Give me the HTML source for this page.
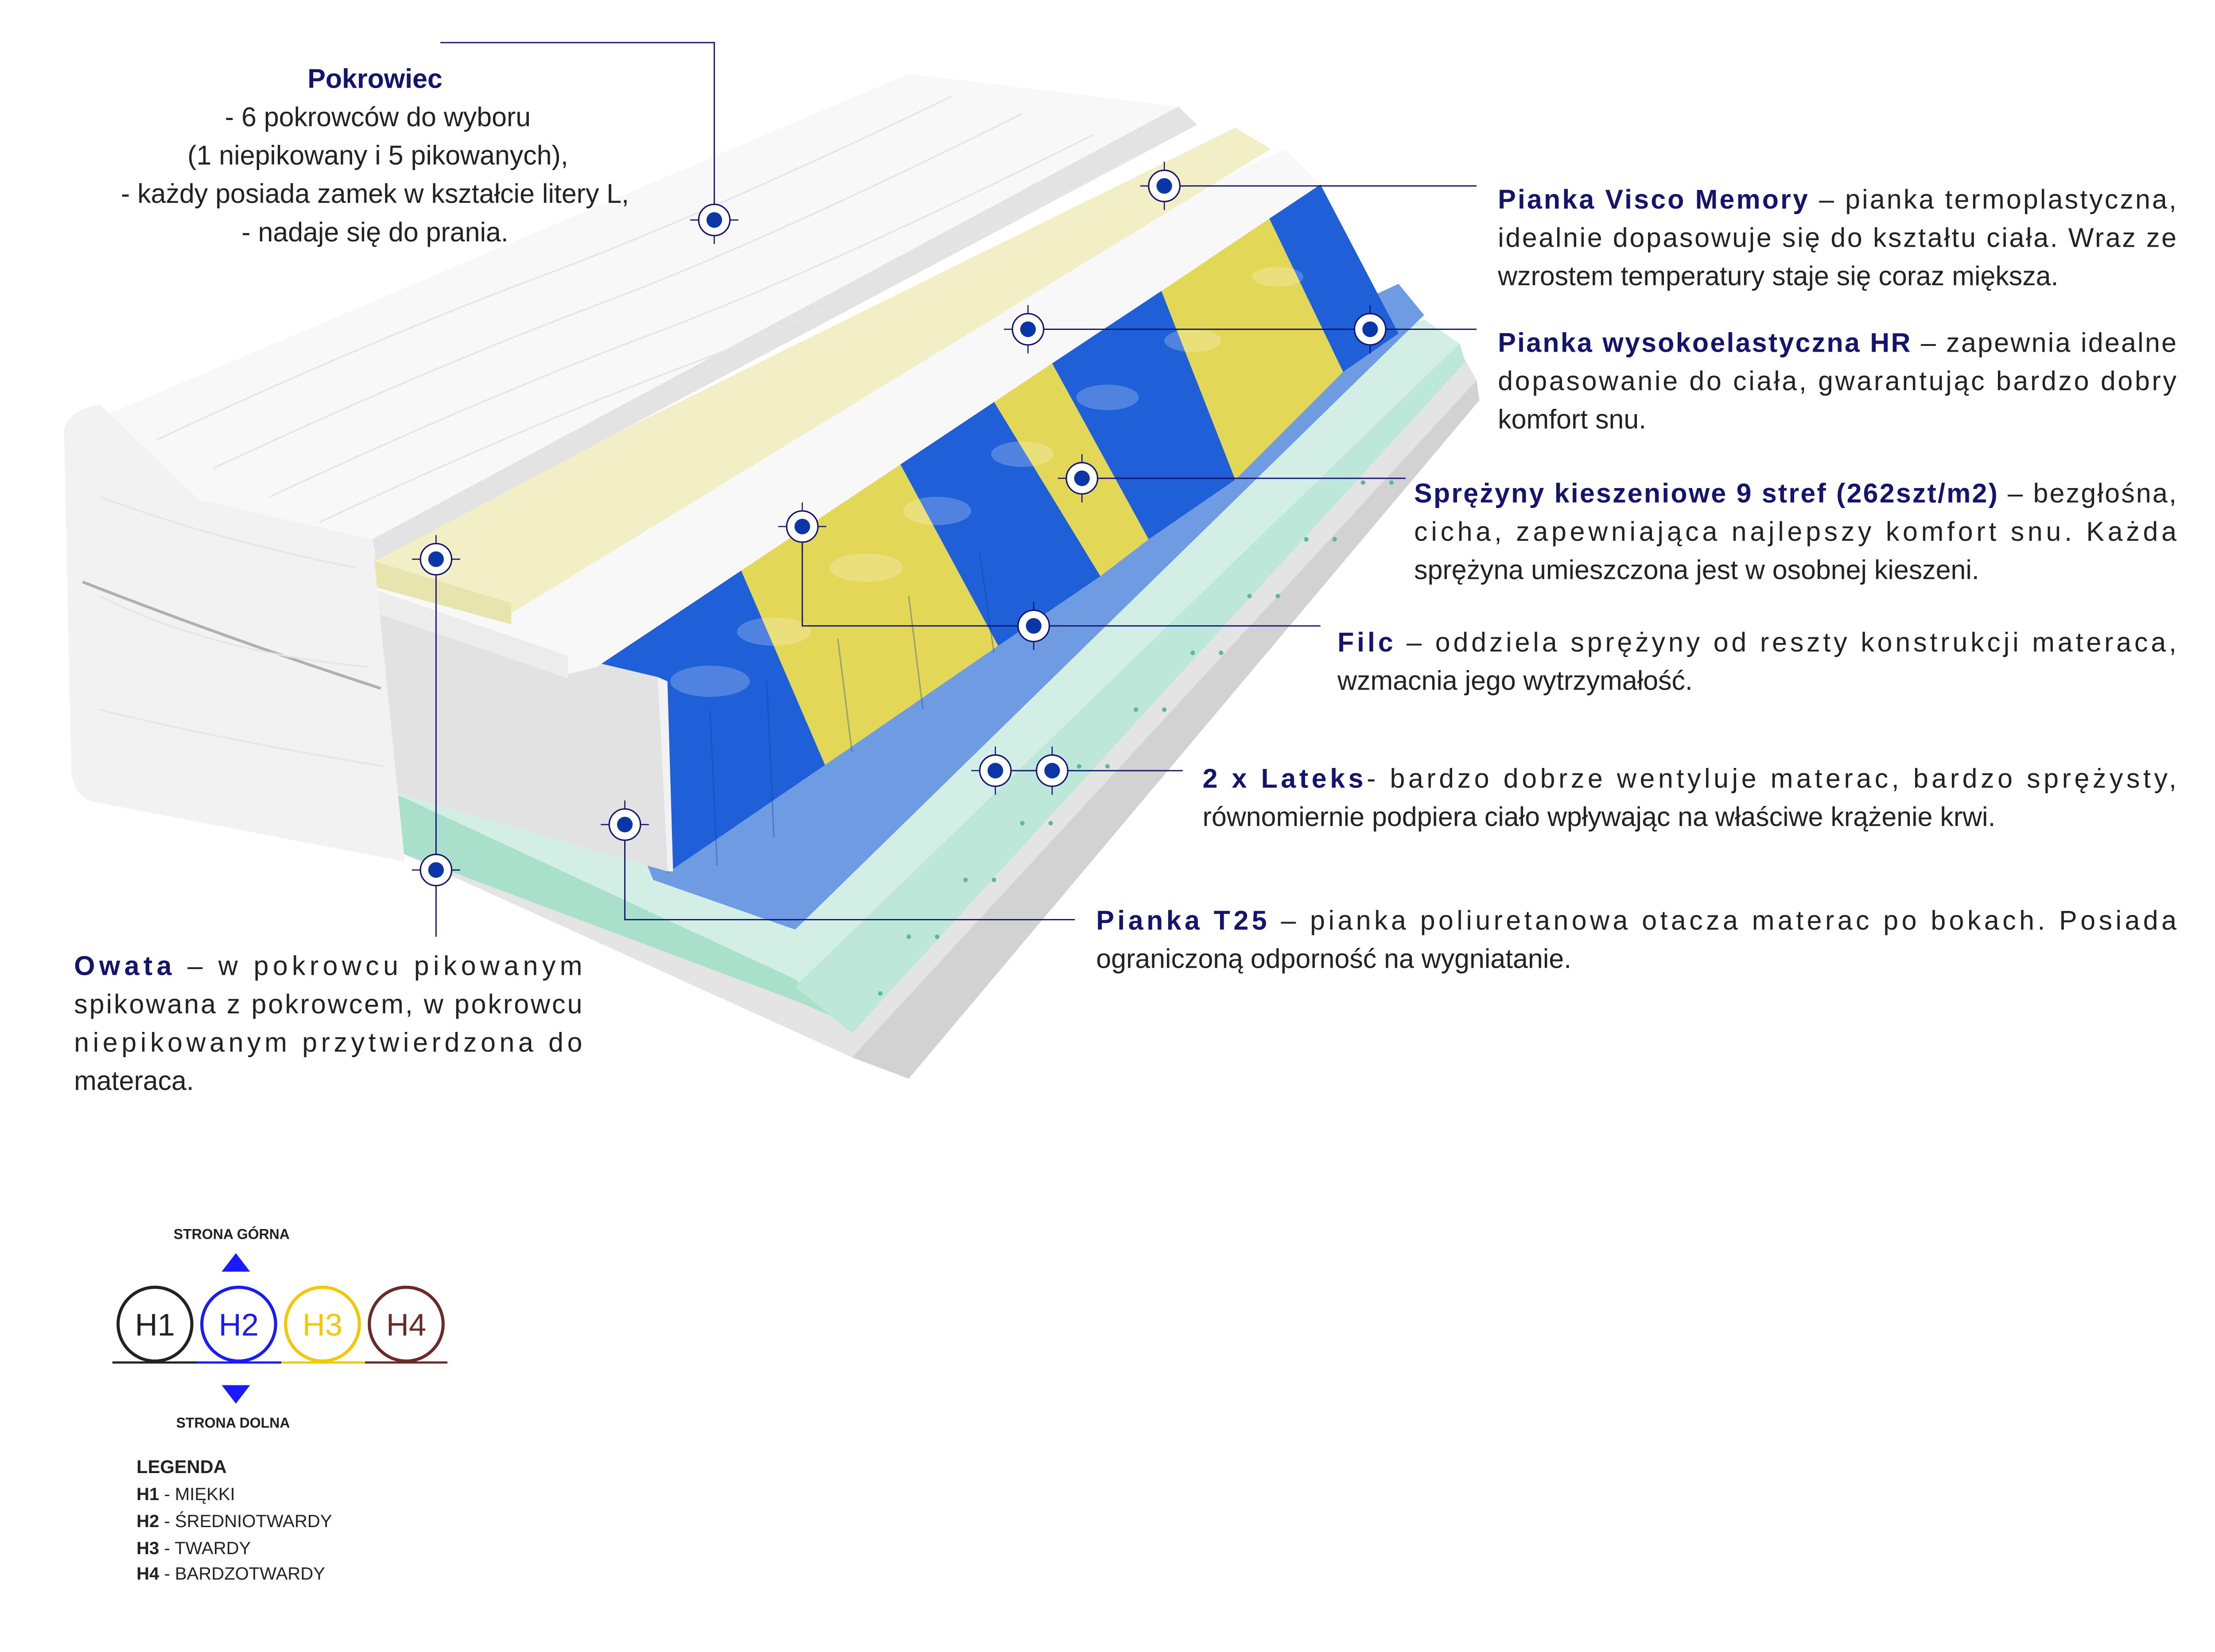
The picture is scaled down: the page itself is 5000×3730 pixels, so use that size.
<!DOCTYPE html>
<html><head><meta charset="utf-8"><style>
html,body{margin:0;padding:0;background:#fff;width:5000px;height:3730px;overflow:hidden}
svg{display:block}
text{font-family:"Liberation Sans","DejaVu Sans",sans-serif}
.b{font-size:19px;fill:#222}
.t{font-weight:bold;fill:#14146e}
</style></head><body>
<svg width="5000" height="3730" viewBox="0 0 1560 1164" xmlns="http://www.w3.org/2000/svg">
<defs>
<g id="mk"><line x1="-17" y1="0" x2="17" y2="0" stroke="#14146e" stroke-width="0.8"/><line x1="0" y1="-17" x2="0" y2="17" stroke="#14146e" stroke-width="0.8"/><circle r="11" fill="#fff" stroke="#14146e" stroke-width="1"/><circle r="5.5" fill="#0a36a8"/></g>
</defs>

<!-- base grey -->
<polygon points="280,600 1030,250 1040,268 640,760 600,745" fill="#e4e4e4"/>
<polygon points="600,745 1040,268 1042,282 640,760" fill="#d2d2d2"/>
<!-- latex green -->
<polygon points="280,560 1003,225 1028,242 600,722 560,700" fill="#d3efe5"/>
<polygon points="280,560 560,690 600,722 560,705 280,600" fill="#a9e0cc"/>
<polygon points="560,695 1028,242 1032,255 600,728" fill="#bde8d9"/>
<g fill="#5fb79a">
<circle cx="640" cy="660" r="1.6"/><circle cx="680" cy="620" r="1.6"/><circle cx="720" cy="580" r="1.6"/><circle cx="760" cy="540" r="1.6"/><circle cx="800" cy="500" r="1.6"/><circle cx="840" cy="460" r="1.6"/><circle cx="880" cy="420" r="1.6"/><circle cx="920" cy="380" r="1.6"/><circle cx="960" cy="340" r="1.6"/>
<circle cx="620" cy="700" r="1.6"/><circle cx="660" cy="660" r="1.6"/><circle cx="700" cy="620" r="1.6"/><circle cx="740" cy="580" r="1.6"/><circle cx="780" cy="540" r="1.6"/><circle cx="820" cy="500" r="1.6"/><circle cx="860" cy="460" r="1.6"/><circle cx="900" cy="420" r="1.6"/><circle cx="940" cy="380" r="1.6"/><circle cx="980" cy="340" r="1.6"/>
</g>
<!-- filc blue -->
<polygon points="400,472 985,200 1003,222 560,655 460,620" fill="#6f9be3"/>
<!-- springs zones between E (420,470)-(930,130) and F (470,615)-(985,235) -->
<polygon points="420,470 522,402 581,539 470,615" fill="#1f5fd8"/>
<polygon points="522,402 634,327 703,455 581,539" fill="#e3d757"/>
<polygon points="634,327 700,283 775,406 703,455" fill="#1f5fd8"/>
<polygon points="700,283 741,256 809,380 775,406" fill="#e3d757"/>
<polygon points="741,256 818,205 870,338 809,380" fill="#1f5fd8"/>
<polygon points="818,205 894,154 946,262 870,338" fill="#e3d757"/>
<polygon points="894,154 930,130 985,235 946,262" fill="#1f5fd8"/>
<g fill="#fff" opacity="0.22">
<ellipse cx="500" cy="480" rx="28" ry="11"/><ellipse cx="545" cy="445" rx="26" ry="10"/><ellipse cx="610" cy="400" rx="26" ry="10"/><ellipse cx="660" cy="360" rx="24" ry="10"/><ellipse cx="720" cy="320" rx="22" ry="9"/><ellipse cx="780" cy="280" rx="22" ry="9"/><ellipse cx="840" cy="240" rx="20" ry="8"/><ellipse cx="900" cy="195" rx="18" ry="7"/>
</g>
<g stroke="#0f3fa0" stroke-width="1" opacity="0.35">
<line x1="500" y1="500" x2="505" y2="610"/><line x1="540" y1="480" x2="545" y2="590"/><line x1="590" y1="450" x2="600" y2="530"/><line x1="640" y1="420" x2="650" y2="500"/><line x1="690" y1="390" x2="700" y2="460"/>
</g>
<!-- white block front face -->
<polygon points="265,430 463,477 470,614 280,559" fill="#e2e2e2"/>
<polygon points="463,477 470,480 474,614 470,614" fill="#f2f2f2"/>
<!-- HR white -->
<polygon points="262,405 905,105 930,130 420,470 400,475 262,430" fill="#f8f8f8"/>
<polygon points="262,415 400,462 400,478 265,432" fill="#ececec"/>
<!-- cream visco -->
<polygon points="262,390 870,90 895,105 360,432 262,410" fill="#f2efc6"/>
<polygon points="262,395 360,425 360,440 262,413" fill="#e8e4ad"/>
<!-- cover -->
<polygon points="45,305 640,52 830,75 262,380 140,352" fill="#f8f8f8"/>
<polygon points="262,380 830,75 843,88 265,395" fill="#e3e3e3"/>
<path d="M45,305 Q45,290 70,285 L140,352 L262,380 L285,607 L66,565 Q50,560 50,540 Z" fill="#f2f2f2"/>
<path d="M58,410 Q160,450 268,485" stroke="#b0b0b0" stroke-width="2" fill="none"/>
<g stroke="#e6e6e6" fill="none" stroke-width="1.2">
<path d="M150,330 Q300,260 420,215 T720,80"/><path d="M190,350 Q340,280 460,235 T770,95"/><path d="M110,310 Q260,240 380,195 T670,68"/><path d="M225,368 Q370,300 490,255 T800,110"/>
<path d="M70,350 Q150,380 250,400"/><path d="M70,420 Q150,460 260,470"/><path d="M70,500 Q150,520 270,540"/>
</g>

<!-- leader lines -->
<g stroke="#14146e" stroke-width="0.9" fill="none">
<polyline points="310,30 503,30 503,155"/>
<line x1="820" y1="131" x2="1040" y2="131"/>
<line x1="724" y1="232" x2="1040" y2="232"/>
<line x1="762" y1="337" x2="990" y2="337"/>
<polyline points="565,371 565,441 930,441"/>
<line x1="701" y1="543" x2="833" y2="543"/>
<polyline points="440,581 440,648 757,648"/>
<line x1="307" y1="394" x2="307" y2="660"/>
</g>
<use href="#mk" x="503" y="155"/><use href="#mk" x="820" y="131"/><use href="#mk" x="724" y="232"/><use href="#mk" x="965" y="232"/>
<use href="#mk" x="762" y="337"/><use href="#mk" x="565" y="371"/><use href="#mk" x="728" y="441"/><use href="#mk" x="701" y="543"/>
<use href="#mk" x="741" y="543"/><use href="#mk" x="440" y="581"/><use href="#mk" x="307" y="394"/><use href="#mk" x="307" y="613"/>

<!-- Pokrowiec -->
<g class="b" text-anchor="middle">
<text x="264" y="62" class="t">Pokrowiec</text>
<text x="266" y="89">- 6 pokrowców do wyboru</text>
<text x="266" y="116">(1 niepikowany i 5 pikowanych),</text>
<text x="264" y="143">-  każdy posiada zamek w kształcie litery L,</text>
<text x="264" y="170">- nadaje się do prania.</text>
</g>

<g class="b">
<text x="1055" y="147" textLength="478" lengthAdjust="spacing"><tspan class="t">Pianka Visco Memory</tspan> – pianka termoplastyczna,</text>
<text x="1055" y="174" textLength="478" lengthAdjust="spacing">idealnie dopasowuje się do kształtu ciała. Wraz ze</text>
<text x="1055" y="201">wzrostem temperatury staje się coraz miększa.</text>

<text x="1055" y="248" textLength="478" lengthAdjust="spacing"><tspan class="t">Pianka wysokoelastyczna HR</tspan> – zapewnia idealne</text>
<text x="1055" y="275" textLength="478" lengthAdjust="spacing">dopasowanie do ciała, gwarantując bardzo dobry</text>
<text x="1055" y="302">komfort snu.</text>

<text x="996" y="354" textLength="537" lengthAdjust="spacing"><tspan class="t">Sprężyny kieszeniowe 9 stref (262szt/m2)</tspan> – bezgłośna,</text>
<text x="996" y="381" textLength="537" lengthAdjust="spacing">cicha, zapewniająca najlepszy komfort snu. Każda</text>
<text x="996" y="408">sprężyna umieszczona jest w osobnej kieszeni.</text>

<text x="942" y="459" textLength="591" lengthAdjust="spacing"><tspan class="t">Filc</tspan> – oddziela sprężyny od reszty konstrukcji materaca,</text>
<text x="942" y="486">wzmacnia jego wytrzymałość.</text>

<text x="847" y="555" textLength="686" lengthAdjust="spacing"><tspan class="t">2 x Lateks</tspan>- bardzo dobrze wentyluje materac, bardzo sprężysty,</text>
<text x="847" y="582">równomiernie podpiera ciało wpływając na właściwe krążenie krwi.</text>

<text x="772" y="655" textLength="761" lengthAdjust="spacing"><tspan class="t">Pianka T25</tspan> – pianka poliuretanowa otacza materac po bokach. Posiada</text>
<text x="772" y="682">ograniczoną odporność na wygniatanie.</text>

<text x="52" y="687" textLength="358" lengthAdjust="spacing"><tspan class="t">Owata</tspan> – w pokrowcu pikowanym</text>
<text x="52" y="714" textLength="358" lengthAdjust="spacing">spikowana z pokrowcem, w pokrowcu</text>
<text x="52" y="741" textLength="358" lengthAdjust="spacing">niepikowanym przytwierdzona do</text>
<text x="52" y="768">materaca.</text>
</g>

<!-- legend -->
<text x="163" y="873" font-size="10" font-weight="bold" fill="#222" text-anchor="middle">STRONA  GÓRNA</text>
<polygon points="156,896 176,896 166,883" fill="#1a1aff"/>
<g stroke-width="2.2" fill="#fff">
<circle cx="109" cy="933" r="26" stroke="#222"/><circle cx="168" cy="933" r="26" stroke="#1a1aff"/>
<circle cx="227" cy="933" r="26" stroke="#f3c800"/><circle cx="286" cy="933" r="26" stroke="#6b2a2a"/>
</g>
<g font-size="22" text-anchor="middle">
<text x="109" y="941" fill="#222">H1</text><text x="168" y="941" fill="#1a1aff">H2</text>
<text x="227" y="941" fill="#f3c800">H3</text><text x="286" y="941" fill="#6b2a2a">H4</text>
</g>
<g stroke-width="1.5">
<line x1="79" y1="960" x2="139" y2="960" stroke="#222"/><line x1="139" y1="960" x2="198" y2="960" stroke="#1a1aff"/>
<line x1="198" y1="960" x2="257" y2="960" stroke="#f3c800"/><line x1="257" y1="960" x2="315" y2="960" stroke="#6b2a2a"/>
</g>
<polygon points="156,976 176,976 166,989" fill="#1a1aff"/>
<text x="164" y="1006" font-size="10" font-weight="bold" fill="#222" text-anchor="middle">STRONA  DOLNA</text>
<g font-size="12.5" fill="#222">
<text x="96" y="1038" font-weight="bold" font-size="13">LEGENDA</text>
<text x="96" y="1057"><tspan font-weight="bold">H1</tspan> - MIĘKKI</text>
<text x="96" y="1076"><tspan font-weight="bold">H2</tspan> - ŚREDNIOTWARDY</text>
<text x="96" y="1095"><tspan font-weight="bold">H3</tspan> - TWARDY</text>
<text x="96" y="1113"><tspan font-weight="bold">H4</tspan> - BARDZOTWARDY</text>
</g>
</svg>
</body></html>
